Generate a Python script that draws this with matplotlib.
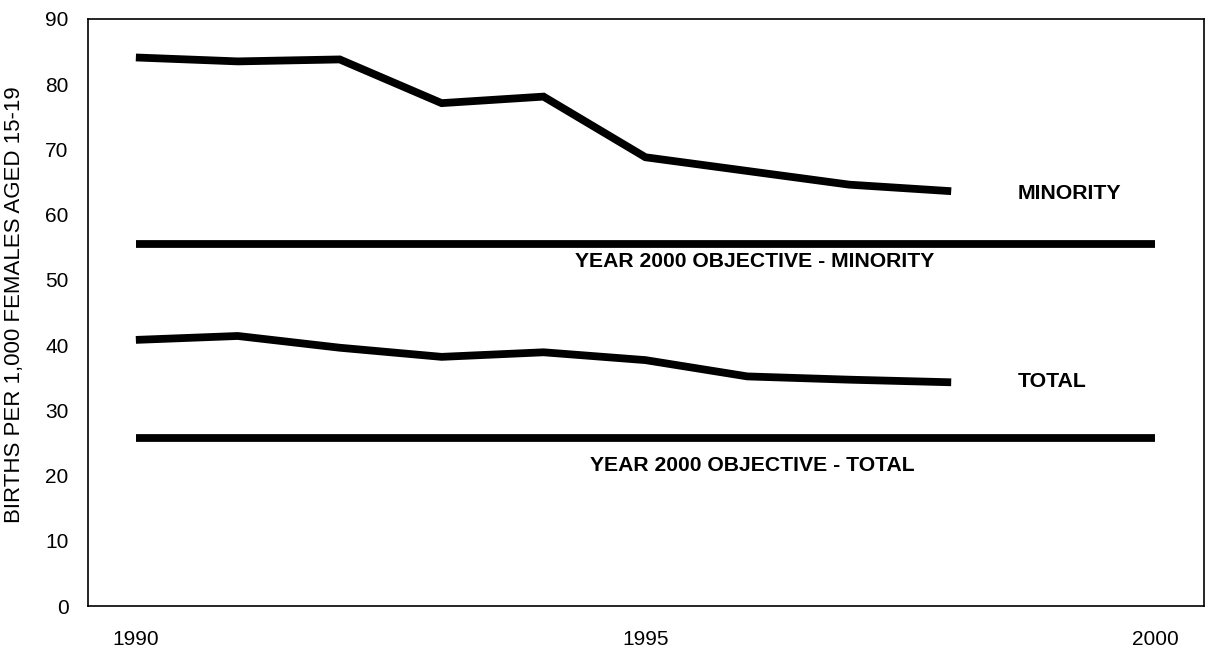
import matplotlib.pyplot as plt

years = [1990, 1991, 1992, 1993, 1994, 1995, 1996, 1997, 1998]
minority = [84.1, 83.5, 83.8, 77.1, 78.1, 68.8, 66.7, 64.6, 63.6]
total = [40.8, 41.4, 39.6, 38.2, 38.9, 37.7, 35.2, 34.7, 34.3]

objective_years = [1990, 2000]
objective_minority = 55.5
objective_total = 25.8

xticks = [1990, 1995, 2000]
yticks = list(range(0, 100, 10))

fontsize = 15
plt.rc('font', family=['Liberation Sans', 'DejaVu Sans'], size=fontsize)

fig = plt.figure(figsize=(12.1, 6.55), dpi=100)
ax = fig.add_axes([0.0727, 0.0748, 0.9223, 0.8962])

lw = 5.6
ax.plot(years, minority, color='black', lw=lw, solid_capstyle='butt', solid_joinstyle='miter')
ax.plot(years, total, color='black', lw=lw, solid_capstyle='butt', solid_joinstyle='miter')
ax.plot(objective_years, [objective_minority] * 2, color='black', lw=lw, solid_capstyle='butt')
ax.plot(objective_years, [objective_total] * 2, color='black', lw=lw, solid_capstyle='butt')

ax.text(1998.65, 63.3, "MINORITY", fontsize=15.3, fontweight='bold', ha='left', va='center')
ax.text(1998.65, 34.4, "TOTAL", fontsize=15.3, fontweight='bold', ha='left', va='center')
ax.text(1996.07, 52.8, "YEAR 2000 OBJECTIVE - MINORITY", fontsize=15.2, fontweight='bold',
        ha='center', va='center')
ax.text(1996.05, 21.5, "YEAR 2000 OBJECTIVE - TOTAL", fontsize=15.2, fontweight='bold',
        ha='center', va='center')

ax.set_xlim(1989.53, 2000.48)
ax.set_ylim(0, 90)
ax.set_xticks(xticks)
ax.set_yticks(yticks)
ax.tick_params(axis='both', length=0)
ax.tick_params(axis='x', pad=17)
ax.tick_params(axis='y', pad=14)

ax.set_ylabel("BIRTHS PER 1,000 FEMALES AGED 15-19", fontsize=16)
ax.yaxis.set_label_coords(-0.056, 0.514)

for s in ax.spines.values():
    s.set_linewidth(1.2)
    s.set_color('black')

fig.savefig("out.png", dpi=100)
